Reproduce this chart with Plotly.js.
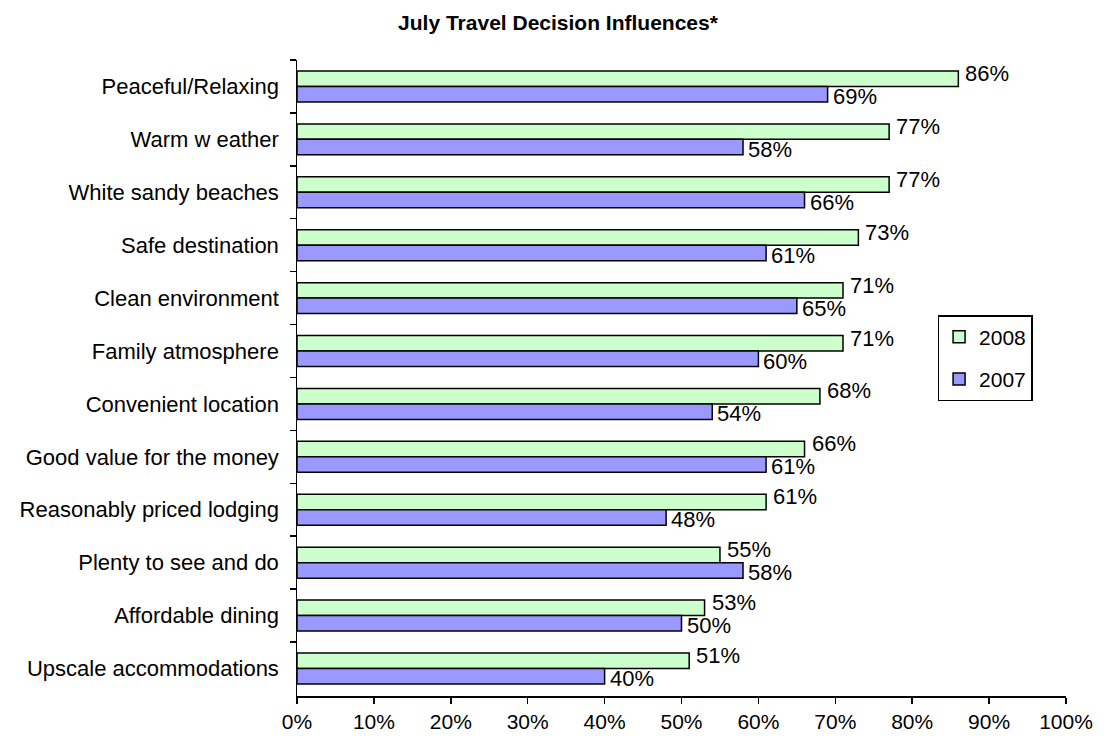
<!DOCTYPE html>
<html>
<head>
<meta charset="utf-8">
<script src="https://cdn.plot.ly/plotly-3.0.1.min.js"></script>
<style>html,body{margin:0;padding:0;background:#fff;}#chart{width:1116px;height:740px;}</style>
</head>
<body>
<div id="chart"></div>
<script>
const categories = [
  "Peaceful/Relaxing",
  "Warm w eather",
  "White sandy beaches",
  "Safe destination",
  "Clean environment",
  "Family atmosphere",
  "Convenient location",
  "Good value for the money",
  "Reasonably priced lodging",
  "Plenty to see and do",
  "Affordable dining",
  "Upscale accommodations"
];
const values2008 = [86, 77, 77, 73, 71, 71, 68, 66, 61, 55, 53, 51];
const values2007 = [69, 58, 66, 61, 65, 60, 54, 61, 48, 58, 50, 40];
const xTicks = [0, 10, 20, 30, 40, 50, 60, 70, 80, 90, 100];

const FONT = "Liberation Sans, Arial, sans-serif";

const traces = [
  {
    type: "bar", orientation: "h", name: "2008",
    y: categories, x: values2008,
    marker: {color: "#CCFFCC", line: {color: "#000000", width: 1.5}},
    legendgroup: "a", hoverinfo: "x+y"
  },
  {
    type: "bar", orientation: "h", name: "2007",
    y: categories, x: values2007,
    marker: {color: "#9999FF", line: {color: "#000000", width: 1.5}},
    legendgroup: "b", hoverinfo: "x+y"
  }
];

const annotations = [];
categories.forEach((c, i) => {
  annotations.push({
    x: values2008[i], y: c, xref: "x", yref: "y",
    text: values2008[i] + "%", showarrow: false,
    xanchor: "left", yanchor: "middle", xshift: 5, yshift: 13,
    font: {family: FONT, size: 22, color: "#000"}
  });
  annotations.push({
    x: values2007[i], y: c, xref: "x", yref: "y",
    text: values2007[i] + "%", showarrow: false,
    xanchor: "left", yanchor: "middle", xshift: 3, yshift: -10,
    font: {family: FONT, size: 22, color: "#000"}
  });
});

const layout = {
  width: 1116, height: 740,
  paper_bgcolor: "#ffffff", plot_bgcolor: "#ffffff",
  margin: {l: 297, r: 50, t: 60, b: 44, pad: 0},
  font: {family: FONT, size: 21, color: "#000"},
  title: {
    text: "<b>July Travel Decision Influences*</b>",
    font: {family: FONT, size: 21, color: "#000"},
    xref: "container", x: 0.5, xanchor: "center",
    yref: "container", y: 0.97, yanchor: "middle"
  },
  barmode: "group",
  bargap: 0.415,
  bargroupgap: 0,
  showlegend: true,
  legend: {
    x: 0.833, y: 0.599, xref: "paper", yref: "paper",
    xanchor: "left", yanchor: "top",
    bordercolor: "#000", borderwidth: 1.5, bgcolor: "#fff",
    font: {family: FONT, size: 21, color: "#000"},
    traceorder: "grouped", tracegroupgap: 12
  },
  xaxis: {
    range: [0, 100], tickmode: "array", tickvals: xTicks,
    ticktext: xTicks.map(v => v + "%"),
    showgrid: false, zeroline: false,
    showline: true, linecolor: "#000", linewidth: 1.5,
    ticks: "outside", ticklen: 6, tickwidth: 1.5, tickcolor: "#000",
    tickfont: {family: FONT, size: 21, color: "#000"},
    fixedrange: true
  },
  yaxis: {
    type: "category", autorange: "reversed",
    showgrid: false, zeroline: false,
    showline: true, linecolor: "#000", linewidth: 1.5,
    ticks: "outside", ticklen: 6, tickwidth: 1.5, tickcolor: "#000",
    tickson: "boundaries",
    ticksuffix: "  ",
    tickfont: {family: FONT, size: 22, color: "#000"},
    fixedrange: true
  },
  annotations: annotations
};

Plotly.newPlot("chart", traces, layout, {displayModeBar: false, staticPlot: true});
</script>
</body>
</html>
